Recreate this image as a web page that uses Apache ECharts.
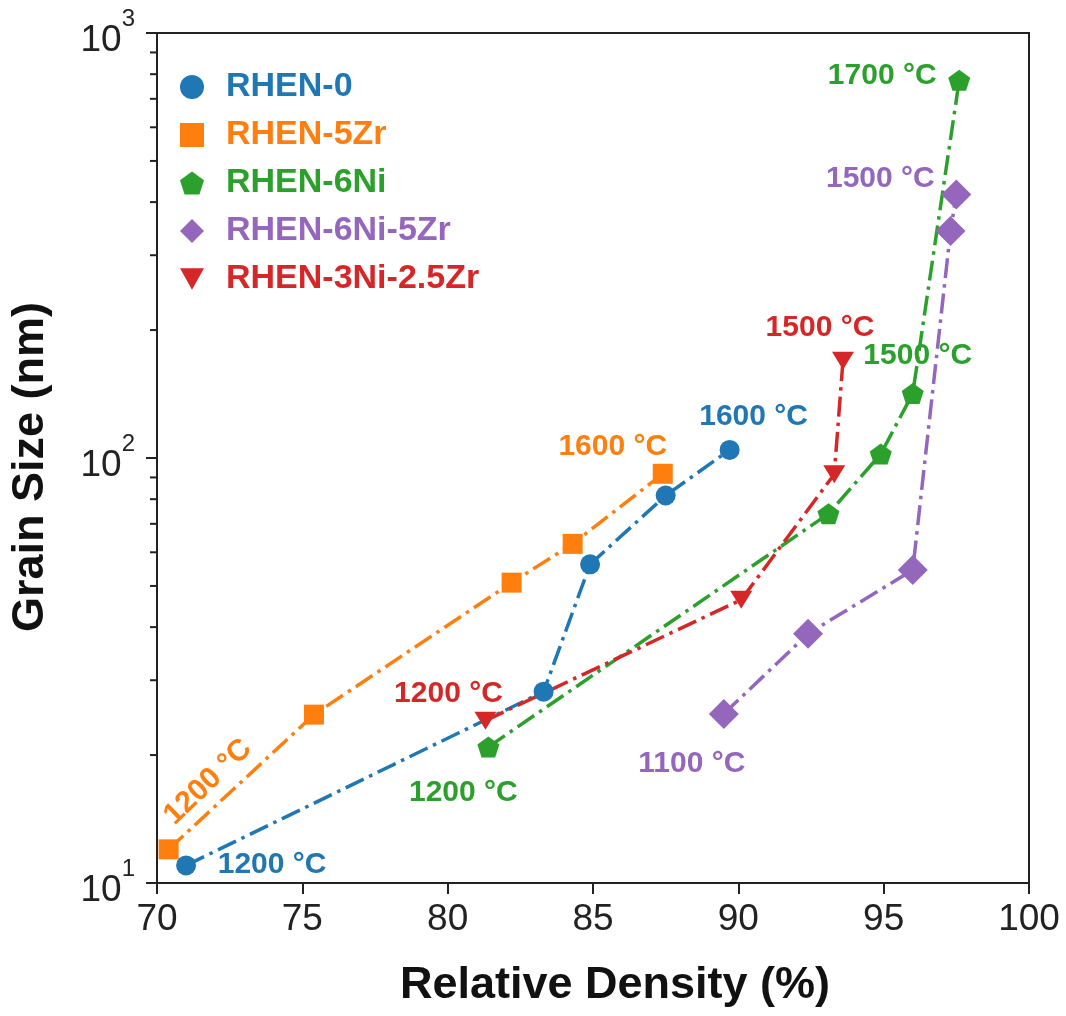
<!DOCTYPE html>
<html>
<head>
<meta charset="UTF-8">
<title>Grain size vs relative density</title>
<script src="https://cdn.jsdelivr.net/npm/echarts@6/dist/echarts.min.js"></script>
<style>
  html, body { margin: 0; padding: 0; background: #fff; }
  #main { width: 1066px; height: 1016px; }
</style>
</head>
<body>
<div id="main"></div>
<script>
// legend order
const seriesNames = ['RHEN-0', 'RHEN-5Zr', 'RHEN-6Ni', 'RHEN-6Ni-5Zr', 'RHEN-3Ni-2.5Zr']

// relative density (%) / grain size (nm)
const rhen0Density = [71.0, 83.3, 84.9, 87.5, 89.7]
const rhen0Grain = [11.0, 28.2, 56.2, 81.6, 104.5]
const rhen5ZrDensity = [70.4, 75.4, 82.2, 84.3, 87.4]
const rhen5ZrGrain = [12.0, 24.9, 50.9, 62.8, 91.8]
const rhen6NiDensity = [81.4, 93.1, 94.9, 96.0, 97.6]
const rhen6NiGrain = [20.9, 73.9, 102.2, 141.8, 774]
const rhen6Ni5ZrDensity = [89.5, 92.4, 96.0, 97.3, 97.5]
const rhen6Ni5ZrGrain = [25.0, 38.6, 54.5, 342, 417]
const rhen3NiDensity = [81.3, 90.1, 93.3, 93.6]
const rhen3NiGrain = [24.1, 46.4, 91.6, 169.3]

// sintering temperature notes ('' = none)
const rhen0Temp = ['1200 °C', '', '', '', '1600 °C']
const rhen5ZrTemp = ['1200 °C', '', '', '', '1600 °C']
const rhen6NiTemp = ['1200 °C', '', '', '1500 °C', '1700 °C']
const rhen6Ni5ZrTemp = ['1100 °C', '', '', '', '1500 °C']
const rhen3NiTemp = ['1200 °C', '', '', '1500 °C']

// axis ticks
const xTicks = [70, 75, 80, 85, 90, 95, 100]
const yDecades = [10, 100, 1000]
const yMinor = [20, 30, 40, 50, 60, 70, 80, 90, 200, 300, 400, 500, 600, 700, 800, 900]

const FONT = "'Liberation Sans', Arial, sans-serif"
const colors = ['#1f77b4', '#ff7f0e', '#2ca02c', '#9467bd', '#d62728']
const pentagon = 'path://M0,-1 L0.951,-0.309 L0.588,0.809 L-0.588,0.809 L-0.951,-0.309 Z'
const triDown = 'path://M-1,-0.9 L1,-0.9 L0,0.9 Z'
const squareP = 'path://M0,0 L1,0 L1,1 L0,1 Z'
const symbols = ['circle', squareP, pentagon, 'diamond', triDown]
const sizes = [20, 20, 22, 30, [22, 20]]

// where each note sits relative to its point (offset is in the label's own rotated frame)
const notePos = [
  {0: [86, -1], 4: [24, -33]},
  {0: [75, -21, 44], 4: [-50, -27]},
  {0: [-25, 46], 3: [5, -38], 4: [-77, -5]},
  {0: [-32, 50], 4: [-76, -16]},
  {0: [-37, -27], 3: [-23, -33]}
]

const xs = [rhen0Density, rhen5ZrDensity, rhen6NiDensity, rhen6Ni5ZrDensity, rhen3NiDensity]
const ys = [rhen0Grain, rhen5ZrGrain, rhen6NiGrain, rhen6Ni5ZrGrain, rhen3NiGrain]
const temps = [rhen0Temp, rhen5ZrTemp, rhen6NiTemp, rhen6Ni5ZrTemp, rhen3NiTemp]

function makeSeries(i) {
  let data = []
  for (let k = 0; k < xs[i].length; k++) {
    let item = {value: [xs[i][k], ys[i][k]]}
    if (temps[i][k]) {
      let p = notePos[i][k]
      item.label = {show: true, formatter: temps[i][k], offset: [p[0], p[1]], rotate: p[2] || 0}
    }
    data.push(item)
  }
  return {
    name: seriesNames[i],
    type: 'line',
    data: data,
    symbol: symbols[i],
    symbolSize: sizes[i],
    symbolKeepAspect: true,
    showSymbol: true,
    itemStyle: {color: colors[i], opacity: 1},
    lineStyle: {color: colors[i], width: 3.5, type: [20, 6, 3.5, 6]},
    label: {
      position: 'inside', color: colors[i], fontSize: 30, fontWeight: 'bold',
      fontFamily: FONT, align: 'center', verticalAlign: 'middle'
    },
    emphasis: {disabled: true}
  }
}

let chart = echarts.init(document.getElementById('main'))
let series = []
for (let i = 0; i < seriesNames.length; i++) series.push(makeSeries(i))

chart.setOption({
  animation: false,
  backgroundColor: '#fff',
  grid: {left: 157, right: 37, top: 33, bottom: 133, show: true, borderColor: '#222', borderWidth: 2},
  legend: {
    orient: 'vertical', left: 175, top: 65, itemGap: 14, itemWidth: 24, itemHeight: 24,
    selectedMode: false,
    data: seriesNames.map((n, i) => ({
      name: n, icon: symbols[i],
      itemStyle: {color: colors[i]},
      textStyle: {color: colors[i]}
    })),
    textStyle: {fontSize: 34, fontWeight: 'bold', fontFamily: FONT, padding: [0, 0, 0, 17]}
  },
  xAxis: {
    type: 'value', min: xTicks[0], max: xTicks[xTicks.length - 1], interval: 5,
    name: 'Relative Density (%)', nameLocation: 'middle', nameGap: 80,
    nameTextStyle: {fontSize: 45, fontWeight: 'bold', color: '#111', fontFamily: FONT, padding: [0, 0, 0, 44]},
    axisLine: {lineStyle: {color: '#222', width: 2}},
    axisTick: {inside: false, length: 11, lineStyle: {color: '#222', width: 2}},
    axisLabel: {fontSize: 37, color: '#222', fontFamily: FONT, margin: 18},
    splitLine: {show: false}
  },
  yAxis: {
    type: 'log', logBase: 10, min: yDecades[0], max: yDecades[yDecades.length - 1], splitNumber: 2,
    name: 'Grain Size (nm)', nameLocation: 'middle', nameGap: 104,
    nameTextStyle: {fontSize: 45, fontWeight: 'bold', color: '#111', fontFamily: FONT, padding: [0, 18, 0, 0]},
    axisLine: {lineStyle: {color: '#222', width: 2}},
    axisTick: {inside: false, length: 11, lineStyle: {color: '#222', width: 2}},
    axisLabel: {
      margin: 22,
      formatter: v => '{b|10}{s|' + Math.round(Math.log10(v)) + '}',
      rich: {
        b: {fontSize: 37, color: '#222', fontFamily: FONT, verticalAlign: 'bottom'},
        s: {fontSize: 24, color: '#222', fontFamily: FONT, verticalAlign: 'bottom', padding: [0, 0, 28, 0]}
      }
    },
    splitLine: {show: false}
  },
  series: series
})

// log minor ticks on the left spine
let x0 = chart.convertToPixel({xAxisIndex: 0}, xTicks[0])
let minor = []
for (let v of yMinor) {
  let y = chart.convertToPixel({yAxisIndex: 0}, v)
  minor.push({type: 'line', silent: true, shape: {x1: x0 - 7, y1: y, x2: x0, y2: y}, style: {stroke: '#222', lineWidth: 2}})
}
chart.setOption({graphic: minor})
</script>
</body>
</html>
